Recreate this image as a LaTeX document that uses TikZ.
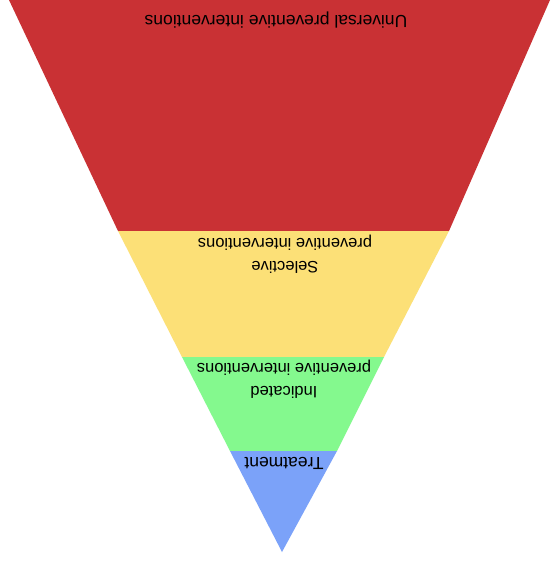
\documentclass[tikz,border=0pt]{standalone}
\usepackage{fontspec}
\setmainfont{Liberation Sans}
\usepackage{xcolor}
\usepackage{tikz}
\usetikzlibrary{positioning,calc}

\definecolor{tierred}{HTML}{C93134}
\definecolor{tieryellow}{HTML}{FCE077}
\definecolor{tiergreen}{HTML}{84F98E}
\definecolor{tierblue}{HTML}{7BA2F9}

\begin{document}
\begin{tikzpicture}[x=1pt, y=-1pt,
    tier/.style={draw=none},
    label/.style={font=\fontsize{16.5}{23}\selectfont, align=center, rotate=180, inner sep=0pt},
]
% frame
\fill[white] (0,0) rectangle (555,563);
\useasboundingbox (0,0) rectangle (555,563);

% Tiers of the funnel
\fill[tier, tierred] (9,0) -- (550,0) -- (449,231) -- (118,231) -- cycle;
\fill[tier, tieryellow] (118,231) -- (449,231) -- (384,357) -- (182,357) -- cycle;
\fill[tier, tiergreen] (182,357) -- (384,357) -- (337,451) -- (230,451) -- cycle;
\fill[tier, tierblue] (230,451) -- (337,451) -- (282,552) -- cycle;

% Labels (upside down)
\node[label, font=\fontsize{17.5}{23}\selectfont] (universal) at (276,20) {Universal preventive interventions};
\node[label] (selective) at (285,254) {Selective\\preventive interventions};
\node[label] (indicated) at (284,379) {Indicated\\preventive interventions};
\node[label, font=\fontsize{17.5}{23}\selectfont] (treatment) at (284,463) {Treatment};
\end{tikzpicture}
\end{document}
